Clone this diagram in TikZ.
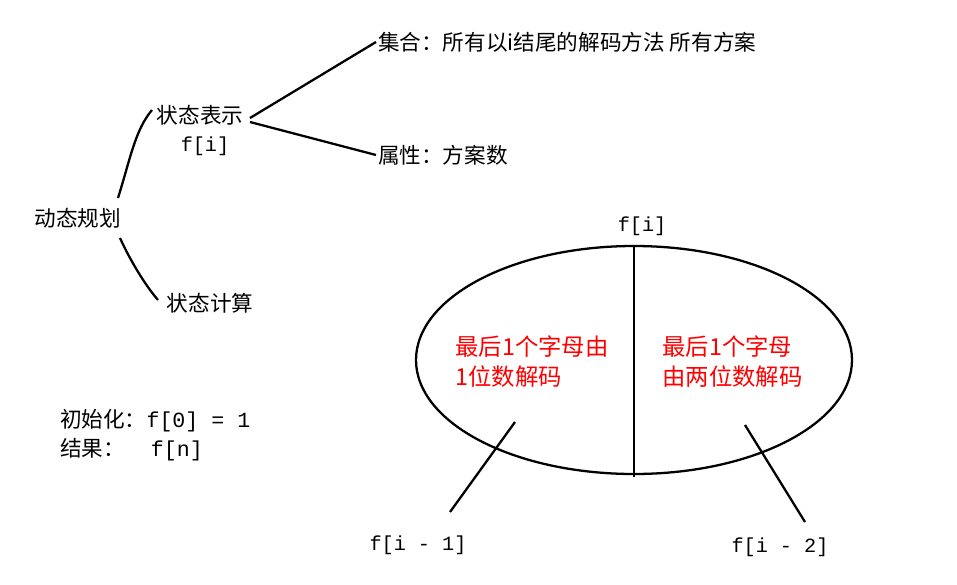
\documentclass[tikz,border=0pt]{standalone}
\usepackage{fontspec}
\setmainfont{Noto Sans CJK SC}
\setmonofont{Liberation Mono}
\begin{document}
\begin{tikzpicture}[x=0.02cm,y=-0.02cm,
  lbl/.style={font=\fontsize{12.3}{14}\selectfont, inner sep=1pt},
  mono/.style={font=\fontsize{11.5}{13}\selectfont\ttfamily, inner sep=1pt},
  redt/.style={font=\fontsize{13.3}{17.5}\selectfont, text=red, align=left, anchor=north west, inner sep=0pt},
  ln/.style={line width=1.3pt}]
\useasboundingbox (0,0) rectangle (957,585);
\node[lbl] (dp) at (78,218) {动态规划};
\node[lbl] (rep) at (200,115) {状态表示};
\node[mono] (fi) at (205,146) {f[i]};
\node[lbl] (calc) at (210,303) {状态计算};
\node[lbl,anchor=west] (set) at (376,42) {集合：所有以i结尾的解码方法 所有方案};
\node[lbl,anchor=west] (attr) at (376,155) {属性：方案数};
\node[lbl,anchor=west] (init) at (58,421) {初始化：\texttt{f[0] = 1}};
\node[lbl,anchor=west] (res) at (58,450) {结果：\texttt{~~f[n]}};
\coordinate (a1) at (118,198); \coordinate (a2) at (152,110);
\draw[ln] (a1) .. controls (130,160) and (135,130) .. (a2);
\coordinate (b1) at (120,238); \coordinate (b2) at (158,300);
\draw[ln] (b1) .. controls (130,260) and (145,285) .. (b2);
\coordinate (r1) at (250,118);
\draw[ln] (r1) -- (set.west);
\draw[ln] (250,122) -- (attr.west);
\draw[ln] (634,360) ellipse [x radius=218, y radius=114];
\coordinate (vt) at (634,247); \coordinate (vb) at (634,477);
\draw[ln] (vt) -- (vb);
\node[mono] (top) at (642,226) {f[i]};
\node[redt] (lt) at (455,335) {最后1个字母由\\1位数解码};
\node[redt] (rt) at (662,335) {最后1个字母\\由两位数解码};
\node[mono] (fm1) at (418,545) {f[i - 1]};
\node[mono] (fm2) at (780,547) {f[i - 2]};
\coordinate (l1) at (515,422); \coordinate (l2) at (450,512);
\draw[ln] (l1) -- (l2);
\coordinate (m1) at (745,425); \coordinate (m2) at (805,522);
\draw[ln] (m1) -- (m2);
\end{tikzpicture}
\end{document}
